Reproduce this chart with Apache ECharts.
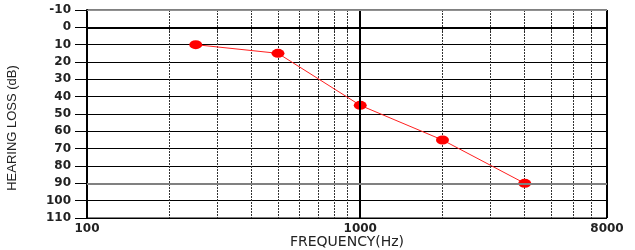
<!DOCTYPE html>
<html>
<head>
<meta charset="utf-8">
<script src="https://cdn.jsdelivr.net/npm/echarts@6/dist/echarts.min.js"></script>
<style>html,body{margin:0;padding:0;background:#fff}#c{width:635px;height:250px}</style>
</head>
<body>
<div id="c"></div>
<script>
const frequencies = [250, 500, 1000, 2000, 4000];
const hearingLoss = [10, 15, 45, 65, 90];
const gridFrequencies = [100, 200, 300, 400, 500, 600, 700, 800, 900, 1000, 2000, 3000, 4000, 5000, 6000, 7000, 8000];
const xTickLabels = [100, 1000, 8000];
const yMin = -10, yMax = 110, yStep = 10;

const chart = echarts.init(document.getElementById('c'), null, {renderer: 'canvas'});
const labelFont = {fontFamily: 'DejaVu Sans', fontSize: 12, fontWeight: 'bold', color: '#222'};
chart.setOption({
  animation: false,
  backgroundColor: '#fff',
  grid: {left: 87, right: 28, top: 10, bottom: 32, containLabel: false, outerBoundsMode: 'none',
         show: true, borderColor: '#000', borderWidth: 1},
  xAxis: {
    type: 'log', logBase: 10, min: 100, max: 8000,
    name: 'FREQUENCY(Hz)', nameLocation: 'middle', nameGap: 17, nameMoveOverlap: false,
    nameTextStyle: {fontFamily: 'DejaVu Sans', fontSize: 14, color: '#222'},
    axisLine: {show: true, lineStyle: {color: '#000', width: 2}},
    axisTick: {show: true, customValues: gridFrequencies, length: 4, lineStyle: {color: '#000', type: [2, 1]}},
    axisLabel: {customValues: xTickLabels, margin: 5, formatter: v => String(v), ...labelFont},
    splitLine: {show: true, lineStyle: {color: '#333', width: 1, type: [2, 1]}},
    minorTick: {show: false}, minorSplitLine: {show: false}
  },
  yAxis: {
    type: 'value', inverse: true, min: yMin, max: yMax, interval: yStep,
    name: 'HEARING LOSS (dB)', nameLocation: 'middle', nameGap: 68, nameRotate: 90,
    nameTextStyle: {fontFamily: 'Liberation Sans', fontSize: 13, color: '#222', padding: [0, 28, 0, 0]},
    axisLine: {show: true, lineStyle: {color: '#000', width: 2}},
    axisTick: {show: true, length: 12, lineStyle: {color: '#000', width: 1}},
    axisLabel: {margin: 16, ...labelFont},
    splitLine: {show: true, lineStyle: {color: '#000', width: 1}}
  },
  series: [{
    type: 'line',
    data: frequencies.map((f, i) => [f, hearingLoss[i]]),
    lineStyle: {color: '#ff2020', width: 1},
    itemStyle: {color: '#ff0000'},
    symbol: 'circle', symbolSize: [13, 9],
    markLine: {
      silent: true, symbol: 'none', label: {show: false},
      lineStyle: {color: '#000', width: 2, type: 'solid'},
      data: [
        {xAxis: 1000},
        {xAxis: 8000},
        {yAxis: 90, lineStyle: {color: '#808080', width: 2, type: 'solid'}},
        {yAxis: -10, lineStyle: {color: '#909090', width: 1, type: 'solid'}}
      ]
    }
  }]
});
</script>
</body>
</html>
